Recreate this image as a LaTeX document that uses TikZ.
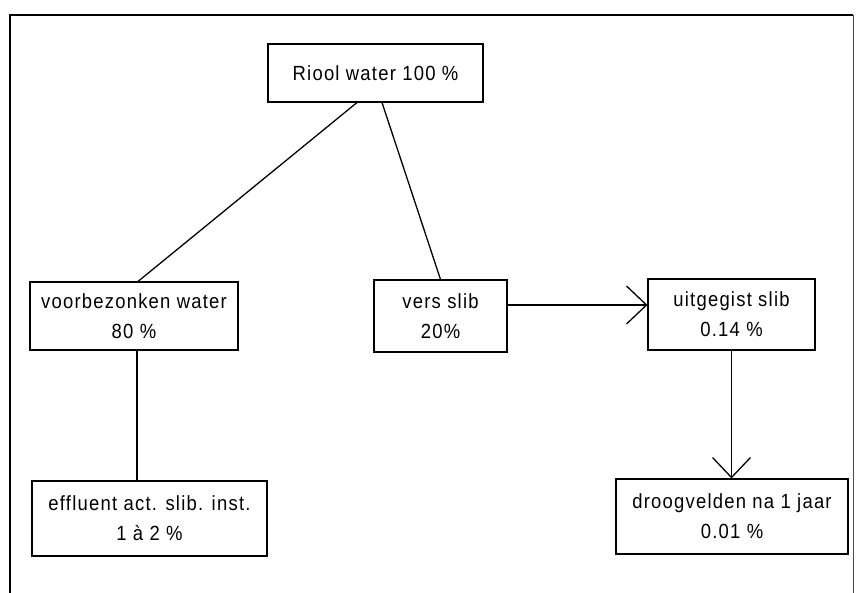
\documentclass[tikz,border=0pt]{standalone}
\usepackage{fontspec}
\setmainfont{Liberation Sans}[LetterSpace=6,FakeStretch=0.9]
\usetikzlibrary{arrows.meta}
\begin{document}
\begin{tikzpicture}[x=1pt,y=-1pt,
  box/.style={draw,line width=1.1pt,inner sep=0pt,align=center,
    font=\fontsize{20.5}{30}\selectfont},
  link/.style={line width=1.3pt},
  flow/.style={line width=1.3pt,-{Straight Barb[length=20pt,width=38pt,line width=1.3pt]}},
  frame/.style={line width=1.2pt}]
\useasboundingbox (0,0) rectangle (857,593);
\draw[frame] (10,593) -- (10,15) -- (853,15);
\draw[line width=0.8pt,black!70] (853,15) -- (853,593);

\node[box,minimum width=215pt,minimum height=58pt] (riool) at (375.5,73) {Riool water 100 \%};
\node[box,minimum width=208pt,minimum height=68pt] (voorb) at (134,316) {voorbezonken water\\80 \%};
\node[box,minimum width=133pt,minimum height=72pt] (vers) at (440.5,316) {vers slib\\20\%};
\node[box,minimum width=167pt,minimum height=71pt] (uitg) at (731.5,314.5) {uitgegist slib\\0.14 \%};
\node[box,minimum width=235pt,minimum height=75pt] (effl) at (149.5,518.5) {effluent act. slib. inst.\\1 à 2 \%};
\node[box,minimum width=232pt,minimum height=75pt] (droog) at (732,516.5) {droogvelden na 1 jaar\\0.01 \%};

\draw[link] ([xshift=-18.5pt]riool.south) -- ([xshift=4pt]voorb.north);
\draw[link] ([xshift=6.5pt]riool.south) -- (vers.north);
\draw[flow] ([yshift=11pt]vers.east) -- ([yshift=11pt]vers.east -| uitg.west);
\draw[flow] (uitg.south) -- (uitg.south |- droog.north);
\draw[link] ([xshift=3pt]voorb.south) -- ([xshift=3pt]voorb.south |- effl.north);
\end{tikzpicture}
\end{document}
